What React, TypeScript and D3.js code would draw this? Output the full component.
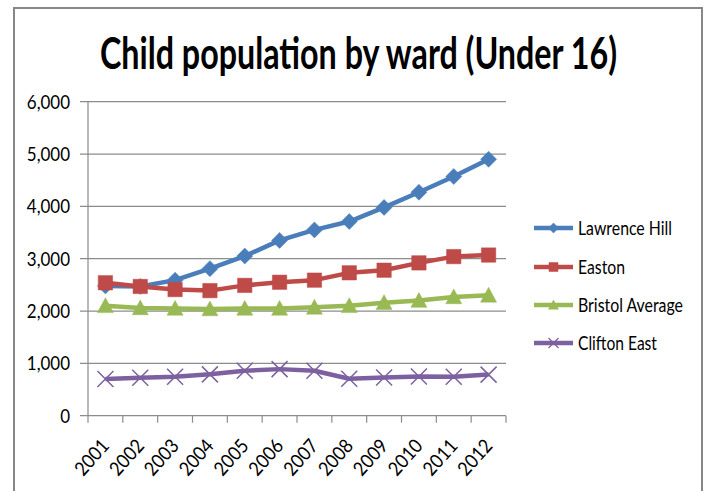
import React, { useLayoutEffect, useRef, useState, useEffect } from "react";
import * as d3 from "d3";

const years = ["2001","2002","2003","2004","2005","2006","2007","2008","2009","2010","2011","2012"];
const lawrenceHill = [2480, 2470, 2590, 2810, 3050, 3350, 3550, 3710, 3980, 4270, 4570, 4900];
const easton = [2540, 2470, 2410, 2390, 2490, 2550, 2590, 2730, 2780, 2920, 3040, 3070];
const bristolAverage = [2100, 2060, 2050, 2040, 2050, 2050, 2070, 2100, 2160, 2200, 2270, 2300];
const cliftonEast = [700, 725, 745, 790, 860, 890, 860, 705, 730, 750, 745, 785];
const yTicks = [0, 1000, 2000, 3000, 4000, 5000, 6000];

const seriesNames = ["Lawrence Hill", "Easton", "Bristol Average", "Clifton East"];
const seriesValues = [lawrenceHill, easton, bristolAverage, cliftonEast];
const seriesColors = ["#4A7EBB", "#BE4B48", "#98B954", "#7D60A0"];
const seriesMarkers = ["diamond", "square", "triangle", "x"];
const legendWidths = [94, 47, 105, 79];

const FONT = "Lato, 'Open Sans', sans-serif";

function markerPath(kind: string, s: number): string {
  const p = d3.path();
  if (kind === "diamond") {
    p.moveTo(0, -s); p.lineTo(s, 0); p.lineTo(0, s); p.lineTo(-s, 0); p.closePath();
  } else if (kind === "square") {
    const h = s * 0.9;
    p.rect(-h, -h, 2 * h, 2 * h);
  } else if (kind === "triangle") {
    p.moveTo(0, -s); p.lineTo(s, s * 0.85); p.lineTo(-s, s * 0.85); p.closePath();
  } else {
    p.moveTo(-s, -s); p.lineTo(s, s); p.moveTo(s, -s); p.lineTo(-s, s);
  }
  return p.toString();
}

type FitProps = {
  x: number; y: number; width: number; anchor?: string; fontSize: number;
  fontWeight?: string; children: string;
};

function FitText({ x, y, width, anchor = "start", fontSize, fontWeight = "normal", children }: FitProps) {
  const ref = useRef<SVGTextElement>(null);
  const [sx, setSx] = useState(1);
  const measure = () => {
    if (ref.current) {
      const len = ref.current.getComputedTextLength();
      if (len > 0) setSx(width / len);
    }
  };
  useLayoutEffect(measure, [children, width, fontSize]);
  useEffect(() => {
    (document as any).fonts?.ready?.then(measure);
  }, []);
  return (
    <g transform={`translate(${x},${y}) scale(${sx},1)`}>
      <text ref={ref} x={0} y={0} textAnchor={anchor} fontFamily={FONT} fontSize={fontSize}
        fontWeight={fontWeight} fill="#000">
        {children}
      </text>
    </g>
  );
}

const TICK_SX = 0.87;
const XTICK_SX = 0.9;

export default function App() {
  const x = d3.scaleBand<string>().domain(years).range([88, 506]).padding(0);
  const y = d3.scaleLinear().domain([0, 6000]).range([415.7, 101.7]);
  const cx = (yr: string) => (x(yr) as number) + x.bandwidth() / 2;
  const line = d3.line<number>().x((_, i) => cx(years[i])).y((v) => y(v));
  const bounds = [...years.map((yr) => x(yr) as number), 506];

  const legendY = [228, 267, 305, 343];

  return (
    <svg width={710} height={491} style={{ position: "absolute", left: 0, top: 0, background: "#fff" }}>
      <rect x={0} y={0} width={710} height={491} fill="#fff" />
      <rect x={14} y={8} width={688} height={500} fill="#fff" stroke="#888" strokeWidth={2} />
      <FitText x={358.5} y={69} width={517} anchor="middle" fontSize={43} fontWeight="bold">
        Child population by ward (Under 16)
      </FitText>
      {/* gridlines */}
      {yTicks.map((t) => (
        <line key={"g" + t} x1={80} x2={506} y1={y(t)} y2={y(t)} stroke="#8C8C8C" strokeWidth={1.2} />
      ))}
      {/* y axis */}
      <line x1={88} x2={88} y1={y(6000)} y2={y(0)} stroke="#8C8C8C" strokeWidth={1.2} />
      {yTicks.map((t) => (
        <g key={"yl" + t} transform={`translate(70,${y(t)}) scale(${TICK_SX},1)`}>
          <text x={0} y={0} dy="0.36em" textAnchor="end" fontFamily={FONT} fontSize={19.5} fill="#000">
            {d3.format(",")(t)}
          </text>
        </g>
      ))}
      {/* x ticks */}
      {bounds.map((b, i) => (
        <line key={"xt" + i} x1={b} x2={b} y1={y(0)} y2={y(0) + 7} stroke="#8C8C8C" strokeWidth={1.2} />
      ))}
      {years.map((yr) => (
        <g key={"xl" + yr} transform={`translate(${cx(yr) + 5},${y(0) + 31}) rotate(-48) scale(${XTICK_SX},1)`}>
          <text x={0} y={0} textAnchor="end" fontFamily={FONT} fontSize={19.5} fill="#000">
            {yr}
          </text>
        </g>
      ))}
      {/* series */}
      {seriesValues.map((vals, si) => (
        <g key={"s" + si}>
          <path d={line(vals) as string} fill="none" stroke={seriesColors[si]} strokeWidth={4.5} strokeLinejoin="round" />
          {vals.map((v, i) => (
            <path key={i} transform={`translate(${cx(years[i])},${y(v)})`} d={markerPath(seriesMarkers[si], 8)}
              fill={seriesMarkers[si] === "x" ? "none" : seriesColors[si]}
              stroke={seriesColors[si]} strokeWidth={seriesMarkers[si] === "x" ? 1.5 : 0.5} />
          ))}
        </g>
      ))}
      {/* legend */}
      {seriesNames.map((name, si) => (
        <g key={"l" + si}>
          <line x1={534} x2={573} y1={legendY[si]} y2={legendY[si]} stroke={seriesColors[si]} strokeWidth={4.5} />
          <path transform={`translate(553.5,${legendY[si]})`} d={markerPath(seriesMarkers[si], 5)}
            fill={seriesMarkers[si] === "x" ? "none" : seriesColors[si]}
            stroke={seriesColors[si]} strokeWidth={seriesMarkers[si] === "x" ? 1.2 : 0.5} />
          <FitText x={578} y={legendY[si] + 7} width={legendWidths[si]} fontSize={19}>{name}</FitText>
        </g>
      ))}
    </svg>
  );
}
